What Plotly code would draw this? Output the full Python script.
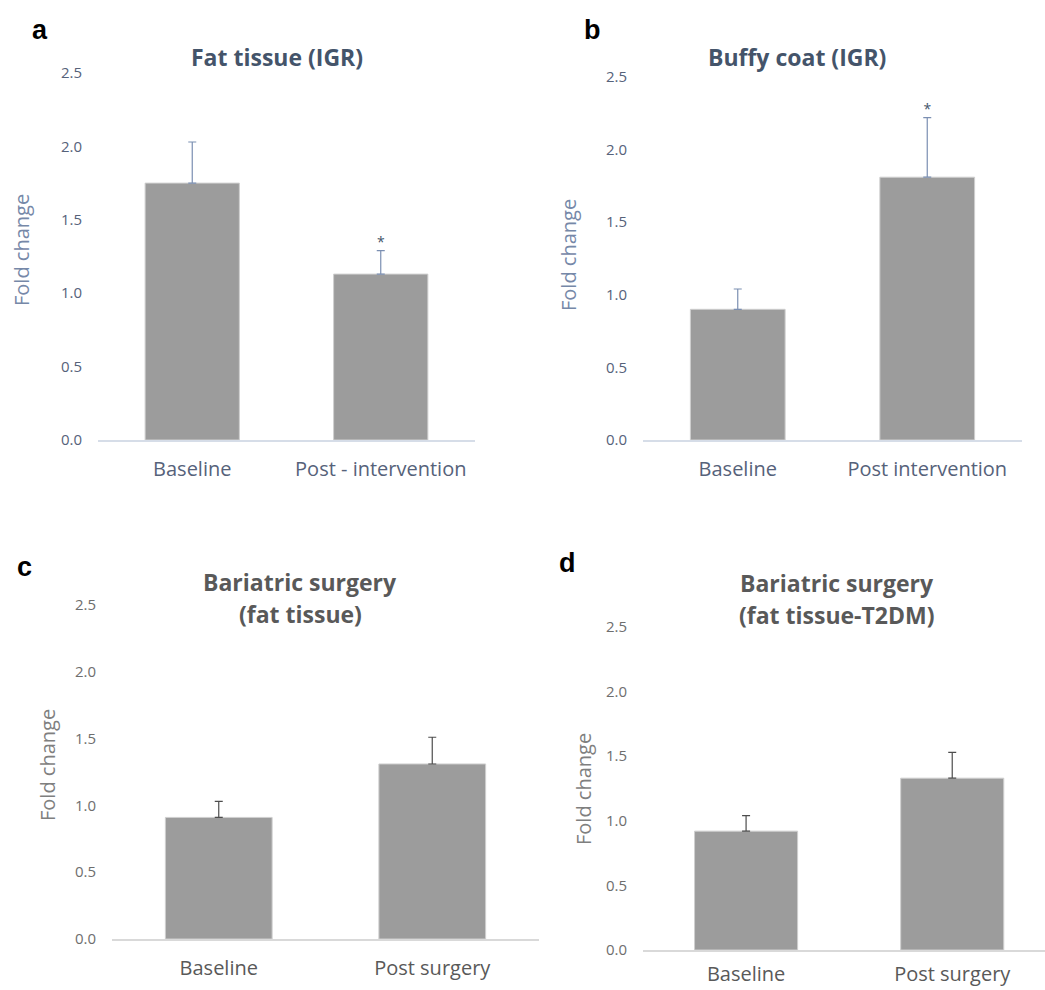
import plotly.graph_objects as go

# ---------------- data ----------------
categories_a = ["Baseline", "Post - intervention"]
values_a = [1.75, 1.13]
errors_a = [0.28, 0.16]
sig_a = ["", "*"]

categories_b = ["Baseline", "Post intervention"]
values_b = [0.90, 1.81]
errors_b = [0.14, 0.41]
sig_b = ["", "*"]

categories_c = ["Baseline", "Post surgery"]
values_c = [0.91, 1.31]
errors_c = [0.12, 0.20]

categories_d = ["Baseline", "Post surgery"]
values_d = [0.92, 1.33]
errors_d = [0.12, 0.20]

tick_vals = [0.0, 0.5, 1.0, 1.5, 2.0, 2.5]
tick_text = ["0.0", "0.5", "1.0", "1.5", "2.0", "2.5"]

W, H = 1045, 990
FONT = "Open Sans"

def px_x(p):
    return p / W

def px_y(p):
    return 1 - p / H

panels = [
    dict(cats=categories_a, vals=values_a, errs=errors_a, sig=sig_a,
         x0=98, x1=475, yt=73, yb=440, xr=[-0.5, 1.5], xlab_gap=10,
         tick_col="#56627a", xlab_col="#56627a", ytitle_col="#7688a8",
         err_col="#7b8fb2", axis_col="#d6dde8",
         title=["Fat tissue (IGR)"], title_col="#44546a", title_xy=(277, [57]),
         ytitle_xy=(21, 250), letter="a", letter_xy=(40, 30)),
    dict(cats=categories_b, vals=values_b, errs=errors_b, sig=sig_b,
         x0=643, x1=1022, yt=77, yb=440, xr=[-0.5, 1.5], xlab_gap=10,
         tick_col="#56627a", xlab_col="#56627a", ytitle_col="#7688a8",
         err_col="#7b8fb2", axis_col="#d6dde8",
         title=["Buffy coat (IGR)"], title_col="#44546a", title_xy=(797, [57]),
         ytitle_xy=(568, 255), letter="b", letter_xy=(592, 30)),
    dict(cats=categories_c, vals=values_c, errs=errors_c, sig=None,
         x0=112, x1=539, yt=605, yb=939, xr=[-0.5, 1.5], xlab_gap=10,
         tick_col="#6e6e6e", xlab_col="#595959", ytitle_col="#7f7f7f",
         err_col="#4d4d4d", axis_col="#d9d9d9",
         title=["Bariatric surgery", "(fat tissue)"], title_col="#595959",
         title_xy=(300, [582, 614]),
         ytitle_xy=(47, 765), letter="c", letter_xy=(24, 567)),
    dict(cats=categories_d, vals=values_d, errs=errors_d, sig=None,
         x0=643, x1=1045, yt=627, yb=950, xr=[-0.5, 1.45], xlab_gap=5,
         tick_col="#6e6e6e", xlab_col="#595959", ytitle_col="#7f7f7f",
         err_col="#4d4d4d", axis_col="#d9d9d9",
         title=["Bariatric surgery", "(fat tissue-T2DM)"], title_col="#595959",
         title_xy=(837, [583, 615]),
         ytitle_xy=(583, 789), letter="d", letter_xy=(567, 563)),
]

fig = go.Figure()
annotations = []
layout_axes = {}

for i, p in enumerate(panels, start=1):
    xa = "x" if i == 1 else f"x{i}"
    ya = "y" if i == 1 else f"y{i}"
    xkey = "xaxis" if i == 1 else f"xaxis{i}"
    ykey = "yaxis" if i == 1 else f"yaxis{i}"

    fig.add_trace(go.Bar(
        x=p["cats"], y=p["vals"], width=0.5,
        marker=dict(color="#9c9c9c", line=dict(color="#cfcfcf", width=1)),
        error_y=dict(type="data", array=p["errs"], arrayminus=[0] * len(p["errs"]),
                     symmetric=False, color=p["err_col"], thickness=1.2, width=4),
        xaxis=xa, yaxis=ya, showlegend=False, hoverinfo="skip",
    ))

    if p["sig"] is not None:
        tops = [v + e for v, e in zip(p["vals"], p["errs"])]
        fig.add_trace(go.Scatter(
            x=p["cats"], y=tops, mode="text", text=p["sig"],
            textposition="top center",
            textfont=dict(family=FONT, size=14, color="#44546a"),
            xaxis=xa, yaxis=ya, showlegend=False, hoverinfo="skip",
        ))

    layout_axes[xkey] = dict(
        domain=[px_x(p["x0"]), px_x(p["x1"])], anchor=ya, automargin=False,
        type="category", range=p["xr"], showgrid=False, zeroline=False,
        showline=True, linecolor=p["axis_col"], linewidth=2,
        ticks="outside", ticklen=p["xlab_gap"], tickcolor="rgba(0,0,0,0)",
        tickfont=dict(family=FONT, size=20, color=p["xlab_col"]),
        fixedrange=True,
    )
    layout_axes[ykey] = dict(
        domain=[px_y(p["yb"]), px_y(p["yt"])], anchor=xa, automargin=False,
        range=[0, 2.5], showgrid=False, zeroline=False, showline=False,
        tickvals=tick_vals, ticktext=tick_text,
        ticks="outside", ticklen=12, tickcolor="rgba(0,0,0,0)",
        tickfont=dict(family=FONT, size=15, color=p["tick_col"]),
        fixedrange=True,
    )

    tx, tys = p["title_xy"]
    for line, ty in zip(p["title"], tys):
        annotations.append(dict(
            text=f"<b>{line}</b>", x=px_x(tx), y=px_y(ty), xref="paper", yref="paper",
            xanchor="center", yanchor="middle", showarrow=False,
            font=dict(family=FONT, size=23, color=p["title_col"]),
        ))
    yx, yy = p["ytitle_xy"]
    annotations.append(dict(
        text="Fold change", x=px_x(yx), y=px_y(yy), xref="paper", yref="paper",
        xanchor="center", yanchor="middle", textangle=-90, showarrow=False,
        font=dict(family=FONT, size=20, color=p["ytitle_col"]),
    ))
    lx, ly = p["letter_xy"]
    annotations.append(dict(
        text=f"<b>{p['letter']}</b>", x=px_x(lx), y=px_y(ly), xref="paper", yref="paper",
        xanchor="center", yanchor="middle", showarrow=False,
        font=dict(family="Liberation Sans", size=27, color="#000000"),
    ))

fig.update_layout(
    width=W, height=H,
    margin=dict(l=0, r=0, t=0, b=0, autoexpand=False),
    paper_bgcolor="white", plot_bgcolor="white",
    annotations=annotations,
    bargap=0.5,
    **layout_axes,
)

fig.write_html(
    "out.html",
    config={"displayModeBar": False},
    post_script="document.body.style.margin='0';document.body.style.overflow='hidden';",
)
